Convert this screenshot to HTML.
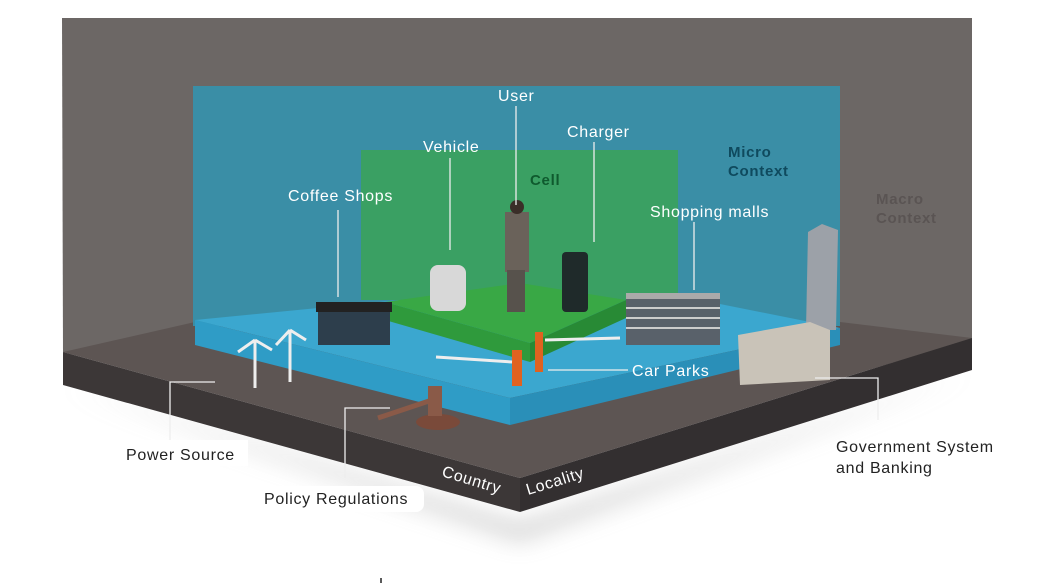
<!DOCTYPE html>
<html><head><meta charset="utf-8"><style>
html,body{margin:0;padding:0;background:#fff;}
svg{display:block;font-family:"Liberation Sans",sans-serif;}
text{letter-spacing:0.7px;}
</style></head><body>
<svg width="1037" height="583" viewBox="0 0 1037 583" xmlns="http://www.w3.org/2000/svg">
<defs>
<filter id="sh" x="-20%" y="-20%" width="140%" height="160%"><feGaussianBlur stdDeviation="12"/></filter>
</defs>
<polygon points="63,385 520,525 972,372 520,540" fill="#999" opacity="0.5" filter="url(#sh)"/>
<polygon points="62,18 972,18 972,340 520,470 63,352" fill="#6c6765"/>
<polygon points="63,352 195,322 840,322 972,338 520,478" fill="#5d5553"/>
<polygon points="63,352 520,478 520,512 63,385" fill="#3c3737"/>
<polygon points="520,478 972,338 972,370 520,512" fill="#332f30"/>
<rect x="193" y="86" width="647" height="240" fill="#3a8ea6"/>
<rect x="361" y="150" width="317" height="150" fill="#3aa063"/>
<polygon points="195,320 400,300 700,300 840,328 510,398" fill="#3ba7cf"/>
<polygon points="195,320 510,398 510,425 195,345" fill="#2f9cc6"/>
<polygon points="510,398 840,328 840,345 510,425" fill="#2a8fb8"/>
<polygon points="385,302 520,283 626,300 530,343" fill="#39a845"/>
<polygon points="385,302 530,343 530,362 385,320" fill="#2f9a3c"/>
<polygon points="530,343 626,300 626,318 530,362" fill="#288a35"/>
<rect x="318" y="305" width="72" height="40" fill="#2d3e4c"/>
<rect x="316" y="302" width="76" height="10" fill="#222"/>
<rect x="430" y="265" width="36" height="46" rx="8" fill="#d8d8d8"/>
<rect x="505" y="212" width="24" height="60" fill="#6a625a"/>
<circle cx="517" cy="207" r="7" fill="#3a2e28"/>
<rect x="507" y="270" width="18" height="42" fill="#57524c"/>
<rect x="562" y="252" width="26" height="60" rx="4" fill="#1f2a2a"/>
<rect x="626" y="295" width="94" height="50" fill="#59616a"/>
<rect x="626" y="293" width="94" height="6" fill="#aaa"/>
<g stroke="#ccc" stroke-width="2"><line x1="626" y1="308" x2="720" y2="308"/><line x1="626" y1="318" x2="720" y2="318"/><line x1="626" y1="328" x2="720" y2="328"/></g>
<polygon points="808,232 822,224 838,230 836,330 806,330" fill="#9ca1a8"/>
<polygon points="738,335 810,322 830,330 830,380 740,385" fill="#c9c3b8"/>
<rect x="512" y="350" width="10" height="36" fill="#e06220"/>
<rect x="535" y="332" width="8" height="40" fill="#e06220"/>
<line x1="436" y1="357" x2="512" y2="362" stroke="#eee" stroke-width="3"/>
<line x1="545" y1="340" x2="620" y2="338" stroke="#eee" stroke-width="3"/>
<g stroke="#eee" stroke-width="3"><line x1="255" y1="340" x2="255" y2="388"/><line x1="290" y1="330" x2="290" y2="382"/><line x1="255" y1="340" x2="238" y2="352"/><line x1="255" y1="340" x2="272" y2="350"/><line x1="290" y1="330" x2="276" y2="345"/><line x1="290" y1="330" x2="306" y2="340"/></g>
<ellipse cx="438" cy="422" rx="22" ry="8" fill="#7a4a3a"/>
<rect x="428" y="386" width="14" height="30" fill="#8a5a48"/>
<line x1="378" y1="418" x2="432" y2="400" stroke="#8a5a48" stroke-width="5"/>
<g stroke="#eee" stroke-width="1.3" fill="none">
<line x1="338" y1="210" x2="338" y2="297"/>
<line x1="450" y1="158" x2="450" y2="250"/>
<line x1="516" y1="106" x2="516" y2="205"/>
<line x1="594" y1="142" x2="594" y2="242"/>
<line x1="694" y1="222" x2="694" y2="290"/>
<polyline points="548,370 628,370"/>
<polyline points="215,382 170,382 170,452"/>
<polyline points="390,408 345,408 345,478"/>
<polyline points="815,378 878,378 878,420"/>
</g>
<g fill="#fff" font-size="16">
<text x="498" y="101">User</text>
<text x="567" y="137">Charger</text>
<text x="423" y="152">Vehicle</text>
<text x="288" y="201">Coffee Shops</text>
<text x="650" y="217">Shopping malls</text>
<text x="632" y="376">Car Parks</text>
</g>
<text x="530" y="185" fill="#0f5a2e" font-size="15" font-weight="bold">Cell</text>
<text x="728" y="157" fill="#0f4a5e" font-size="15" font-weight="bold">Micro</text>
<text x="728" y="176" fill="#0f4a5e" font-size="15" font-weight="bold">Context</text>
<text x="876" y="204" fill="#5a5453" font-size="15" font-weight="bold">Macro</text>
<text x="876" y="223" fill="#5a5453" font-size="15" font-weight="bold">Context</text>
<rect x="120" y="440" width="128" height="26" fill="#fff"/>
<text x="126" y="460" fill="#222" font-size="16">Power Source</text>
<rect x="258" y="486" width="166" height="26" rx="8" fill="#fff"/>
<text x="264" y="504" fill="#222" font-size="16">Policy Regulations</text>
<text x="836" y="452" fill="#222" font-size="16">Government System</text>
<text x="836" y="473" fill="#222" font-size="16">and Banking</text>
<text x="0" y="0" fill="#fff" font-size="16" transform="translate(441,476) rotate(17)">Country</text>
<text x="0" y="0" fill="#fff" font-size="16" transform="translate(528,495) rotate(-17)">Locality</text>
<line x1="381" y1="578" x2="381" y2="583" stroke="#222" stroke-width="1.5"/>
</svg>
</body></html>
